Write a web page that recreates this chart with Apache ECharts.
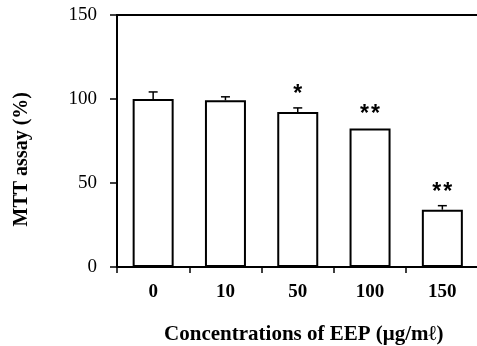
<!DOCTYPE html>
<html>
<head>
<meta charset="utf-8">
<script src="https://cdn.jsdelivr.net/npm/echarts@6/dist/echarts.min.js"></script>
<style>
html,body{margin:0;padding:0;background:#fff;}
#c{width:477px;height:346px;}
</style>
</head>
<body>
<div id="c"></div>
<script>
const categories = ['0', '10', '50', '100', '150'];
const means = [100, 99.2, 92.3, 82.5, 34.1];
const errors = [4.2, 2.1, 2.4, 0.3, 2.4];
const marks = ['', '', '*', '**', '**'];
const yTicks = [0, 50, 100, 150];

const chart = echarts.init(document.getElementById('c'), null, {renderer: 'canvas'});
const serif = '"Liberation Serif", "Times New Roman", serif';

const option = {
  backgroundColor: '#fff',
  animation: false,
  grid: {left: 117, top: 15, width: 361.5, height: 252, outerBoundsMode: 'none', containLabel: false, show: true, borderColor: '#000', borderWidth: 2, backgroundColor: 'transparent'},
  xAxis: {
    type: 'category',
    data: categories,
    boundaryGap: true,
    axisLine: {lineStyle: {color: '#000', width: 2}},
    axisTick: {show: true, alignWithLabel: false, length: 6, lineStyle: {color: '#000', width: 1.5}},
    axisLabel: {color: '#000', fontFamily: serif, fontWeight: 'bold', fontSize: 19, margin: 16},
    name: 'Concentrations of EEP (μg/mℓ)',
    nameLocation: 'middle',
    nameGap: 57,
    nameTextStyle: {color: '#000', fontFamily: serif, fontWeight: 'bold', fontSize: 21, padding: [0, 0, 0, 12]}
  },
  yAxis: {
    type: 'value',
    min: yTicks[0],
    max: yTicks[yTicks.length - 1],
    interval: 50,
    splitLine: {show: false},
    axisLine: {show: true, lineStyle: {color: '#000', width: 2}},
    axisTick: {show: true, length: 7, lineStyle: {color: '#000', width: 1.5}},
    axisLabel: {color: '#000', fontFamily: serif, fontSize: 19, margin: 20}
  },
  graphic: [{
    type: 'text',
    left: 12,
    top: 92,
    rotation: Math.PI / 2,
    style: {text: 'MTT assay (%)', fill: '#000', font: 'bold 20px ' + serif}
  }],
  series: [{
    type: 'bar',
    data: means,
    barWidth: 41,
    itemStyle: {color: '#fff', borderColor: '#000', borderWidth: 2},
    z: 2
  }, {
    type: 'custom',
    z: 3,
    data: means.map((m, i) => [i, m, errors[i]]),
    renderItem: function (params, api) {
      const i = api.value(0);
      const m = api.value(1);
      const e = api.value(2);
      const base = api.coord([i, m]);
      const top = api.coord([i, m + e]);
      const children = [];
      if (e > 0.5) {
        children.push({type: 'line', shape: {x1: base[0], y1: base[1], x2: top[0], y2: top[1]}, style: {stroke: '#000', lineWidth: 1.5}});
        children.push({type: 'line', shape: {x1: top[0] - 4.5, y1: top[1], x2: top[0] + 4.5, y2: top[1]}, style: {stroke: '#000', lineWidth: 1.5}});
      }
      const mk = marks[params.dataIndex];
      if (mk) {
        const n = mk.length;
        const step = 11;
        for (let k = 0; k < n; k++) {
          const cx = top[0] + (k - (n - 1) / 2) * step;
          children.push({type: 'text', style: {text: mk[k], x: cx, y: top[1] - 2, align: 'center', verticalAlign: 'bottom', fill: '#000', font: 'bold 23px "Liberation Sans", Arial, sans-serif'}});
        }
      }
      return {type: 'group', children: children};
    }
  }]
};
chart.setOption(option);
</script>
</body>
</html>
